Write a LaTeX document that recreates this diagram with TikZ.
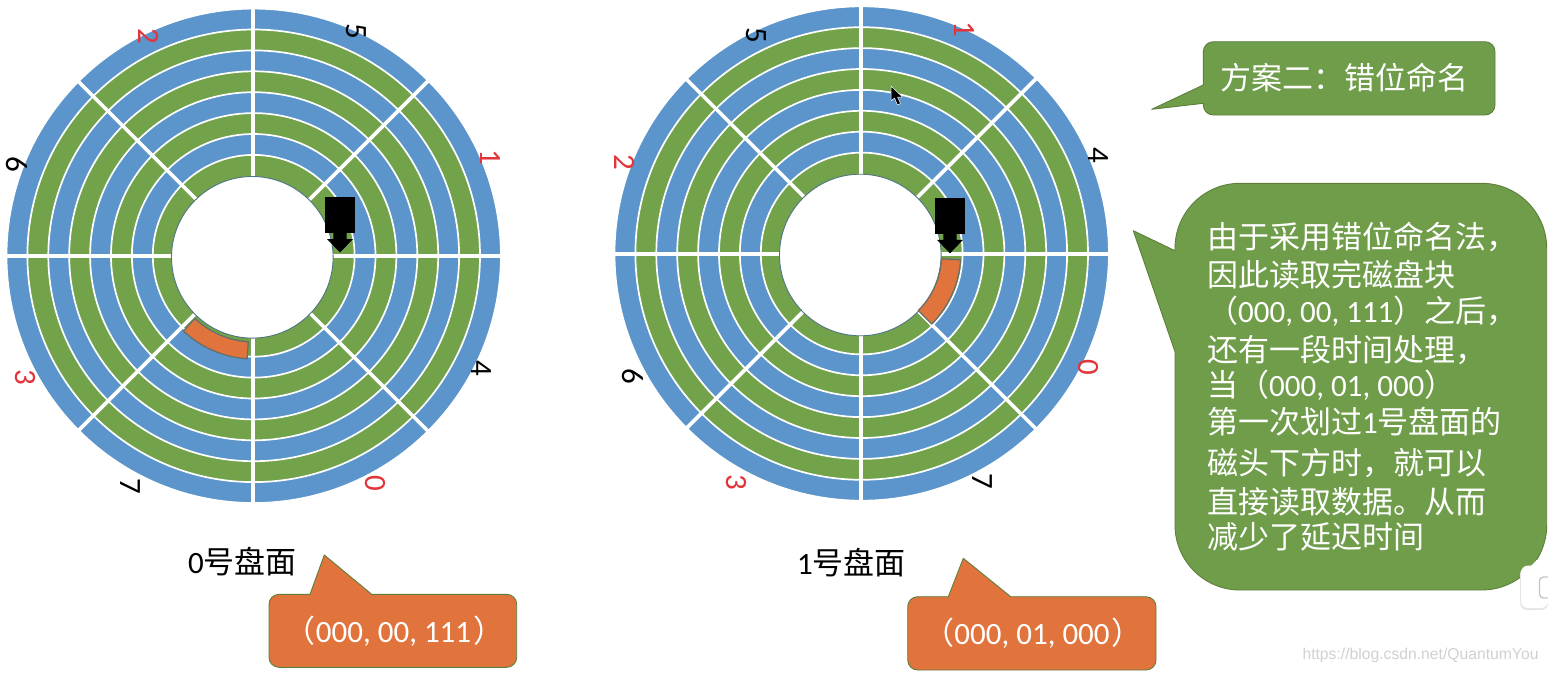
\documentclass[tikz,border=0pt]{standalone}
\usepackage{fontspec}
\setmainfont{Carlito}
\newfontfamily\cjk{Noto Sans CJK SC}
\newfontfamily\wmfont{Liberation Sans}
\definecolor{diskblue}{HTML}{5B95CB}
\definecolor{diskgreen}{HTML}{72A24A}
\definecolor{bubgreen}{HTML}{6F9D4A}
\definecolor{buborange}{HTML}{E1743D}
\definecolor{edgegreen}{HTML}{5E7F3C}
\definecolor{labred}{HTML}{E2353A}
\definecolor{holeedge}{HTML}{4F7482}
\definecolor{sectoredge}{HTML}{66706A}
\newcommand{\bigtext}{\fontsize{31}{35}\selectfont}
\newcommand{\diskrings}[2]{%
  \foreach \n/\col in {8/diskblue,7/diskgreen,6/diskblue,5/diskgreen,4/diskblue,3/diskgreen,2/diskblue,1/diskgreen}{
    \filldraw[draw=white,line width=1.7pt,fill=\col] (#1,#2) circle ({80+\n*20.9});
  }
  \foreach \a in {0,45,...,315}{
    \draw[white,line width=3.6pt] ($(#1-0.8,#2+0.3)+(\a:79)$) -- ($(#1-0.8,#2+0.3)+(\a:248.5)$);
  }
  \filldraw[draw=holeedge,line width=0.9pt,fill=white] (#1-1.4,#2+1.5) circle (80.8);
}
\newcommand{\diskhead}[2]{%
  \fill[black] (#1-14.6,#2-55.5) rectangle (#1+14.6,#2-19.5);
  \fill[black] (#1-6.7,#2-20) -- (#1+6.7,#2-20) -- (#1+6.7,#2-13.5) -- (#1+13,#2-13.5) -- (#1,#2) -- (#1-13,#2-13.5) -- (#1-6.7,#2-13.5) -- cycle;
}
\usetikzlibrary{calc}
\tikzset{
  seclabel/.style={rotate=-90,font=\fontsize{31}{35}\selectfont,inner sep=0pt},
  redlab/.style={seclabel,text=labred},
  blacklab/.style={seclabel,text=black},
  bubtext/.style={text=white,font=\bigtext,inner sep=0pt},
  greenbub/.style={fill=bubgreen,draw=edgegreen,line width=0.9pt,line join=round},
  orangebub/.style={fill=buborange,draw=edgegreen,line width=0.9pt,line join=round},
  sector/.style={fill=buborange,draw=sectoredge,line width=1.3pt,line join=round},
}
\begin{document}
\begin{tikzpicture}[x=1pt,y=1pt,yscale=-1]
\useasboundingbox (0,0) rectangle (1548,673);
\fill[white] (0,0) rectangle (1548,673);

% disk 0
\diskrings{253.7}{255.8}
\filldraw[sector] (254,256) ++(93.8:86) arc[start angle=93.8,end angle=133.3,radius=86]
  -- ++(133.3:17) arc[start angle=133.3,end angle=93.8,radius=103] -- cycle;
\diskhead{340}{252.5}
\node[blacklab] (a5) at (356.7,31.7) {5};
\node[redlab]   (a1) at (490,157) {1};
\node[blacklab] (a4) at (481.7,368.3) {4};
\node[redlab]   (a0) at (375,483) {0};
\node[blacklab] (a7) at (130,486.7) {7};
\node[redlab]   (a3) at (25,377) {3};
\node[blacklab] (a6) at (17.3,164) {6};
\node[redlab]   (a2) at (149,36.7) {2};

% disk 1
\diskrings{861.7}{253.5}
\filldraw[sector] (861.7,254) ++(3.4:80) arc[start angle=3.4,end angle=45,radius=80]
  -- ++(45:19) arc[start angle=45,end angle=3.4,radius=99] -- cycle;
\diskhead{950}{253.3}
\node[redlab]   (b1) at (964,29.3) {1};
\node[blacklab] (b4) at (1098,155) {4};
\node[redlab]   (b0) at (1088.3,367.3) {0};
\node[blacklab] (b7) at (982.7,481.7) {7};
\node[redlab]   (b3) at (736.7,482.3) {3};
\node[blacklab] (b6) at (633.3,376.7) {6};
\node[redlab]   (b2) at (625,162.3) {2};
\node[blacklab] (b5) at (756.7,35) {5};

% mouse pointer
\filldraw[fill=black,draw=white,line width=0.5pt,line join=round]
  (891,86) -- (891,101) -- (894.5,98) -- (897.5,105) -- (900.5,103.5) -- (897.5,97) -- (902.5,97) -- cycle;

% surface captions
\node[font=\bigtext,inner sep=0pt] (cap0) at (242.5,562) {0{\cjk 号盘面}};
\node[font=\bigtext,inner sep=0pt] (cap1) at (851.5,562.5) {1{\cjk 号盘面}};

% orange callouts
\path[orangebub] (310,594.3) -- (324.3,555) -- (371.7,594.3) [rounded corners=10pt] -- (516.7,594.3) -- (516.7,667.3) -- (269,667.3) -- (269,594.3) [sharp corners] -- cycle;
\node[bubtext] (addr0) at (394.5,631.7) {{\cjk （}000, 00, 111\kern2pt{\cjk ）}};
\path[orangebub] (948.3,596.7) -- (963.3,558.3) -- (1010.7,596.7) [rounded corners=10pt] -- (1156,596.7) -- (1156,670) -- (907.7,670) -- (907.7,596.7) [sharp corners] -- cycle;
\node[bubtext] (addr1) at (1033,633) {{\cjk （}000, 01, 000\kern2pt{\cjk ）}};

% green callouts
\path[greenbub] (1203.3,103.3) -- (1151.7,109.3) -- (1203.3,85) [rounded corners=10pt] -- (1203.3,41.7) -- (1495,41.7) -- (1495,115) -- (1203.3,115) [sharp corners] -- cycle;
\node[bubtext] (title) at (1344,78) {\cjk 方案二：错位命名};

\path[greenbub] (1175,351.7) -- (1133.3,230.7) -- (1175,250.7) [rounded corners=65pt] -- (1175,183.3) -- (1546.7,183.3) -- (1546.7,590) -- (1175,590) [sharp corners] -- cycle;
\node[bubtext,anchor=north west,align=left] (body) at (1207,222) {\baselineskip=35pt
{\cjk 由于采用错位命名法，}\\[3.3pt]
{\cjk 因此读取完磁盘块}\\[1pt]
{\cjk （}000, 00, 111{\cjk ）之后，}\\[4pt]
{\cjk 还有一段时间处理，}\\[0pt]
{\cjk 当（}000, 01, 000{\cjk ）}\\[1.7pt]
{\cjk 第一次划过}1{\cjk 号盘面的}\\[6.3pt]
{\cjk 磁头下方时，就可以}\\[3.7pt]
{\cjk 直接读取数据。从而}\\[0pt]
{\cjk 减少了延迟时间}};

% screen overlay button at the right edge
\fill[black!10,rounded corners=7pt] (1520,567.5) rectangle (1548,610);
\fill[white,rounded corners=7pt] (1521,565.5) rectangle (1548,608);
\fill[white] (1530,567) -- (1536.7,560) -- (1544,567) -- cycle;
\draw[black!22,line width=1.4pt,rounded corners=4pt] (1548,577) -- (1539.5,577) -- (1539.5,598) -- (1548,598);

% watermark
\node[text=black!18,font=\wmfont\fontsize{15.7}{18}\selectfont,inner sep=0pt] (wm) at (1420.5,655) {https://blog.csdn.net/QuantumYou};
\end{tikzpicture}
\end{document}
